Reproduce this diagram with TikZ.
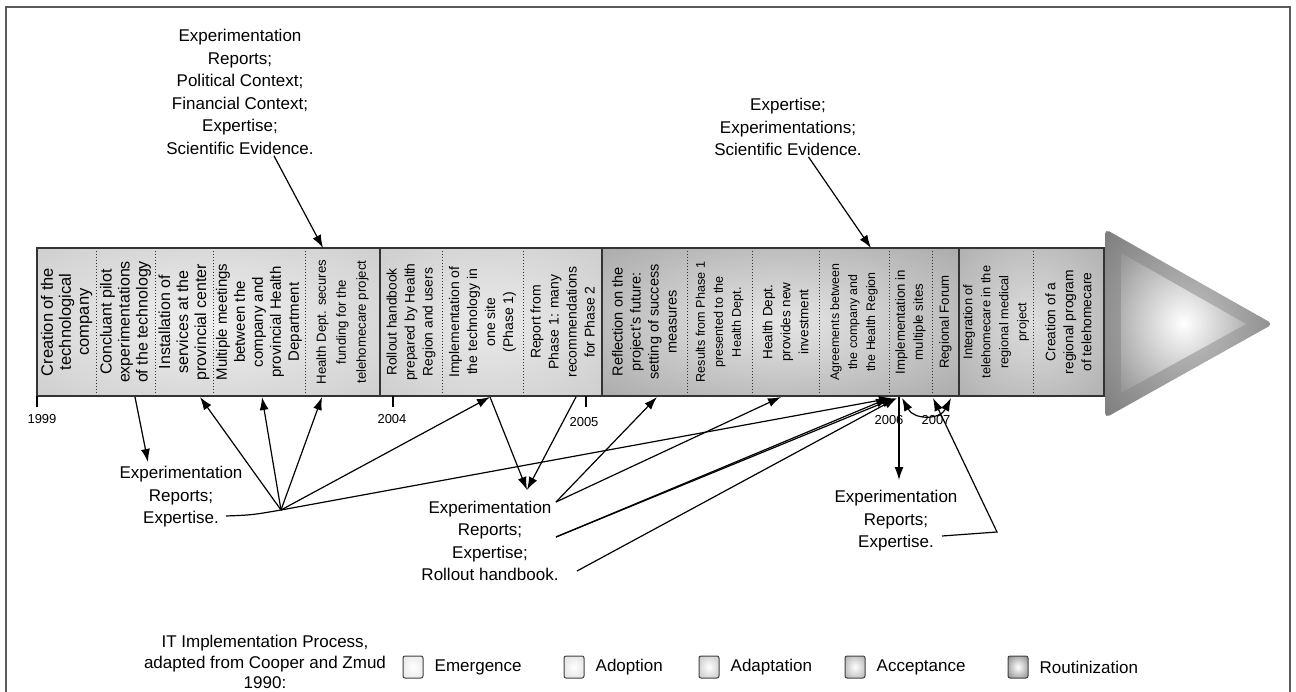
\documentclass[tikz,border=0pt]{standalone}
\usepackage{fontspec}
\setmainfont{Liberation Sans}
\usetikzlibrary{arrows.meta,positioning}
\pgfdeclareradialshading[glin,glout]{glow}{\pgfpoint{0bp}{0bp}}{color(0bp)=(glin); color(50bp)=(glout); color(72bp)=(glout)}
\tikzset{%
  cell/.style={rotate=90,align=center,inner sep=0,font=\fontsize{#1}{18}\selectfont},
  note/.style={align=center,inner sep=1,font=\fontsize{17}{22.5}\selectfont},
  yr/.style={inner sep=0,font=\fontsize{13}{15}\selectfont},
  shine/.style 2 args={/utils/exec={\colorlet{glin}{#1}\colorlet{glout}{#2}},shading=glow},
  bar/.style={draw=black!80,line width=1.8},
  dsep/.style={draw=black!80,line width=1,dotted},
  link/.style={draw=black,line width=1.2},
  flow/.style={link,-{Latex[length=13pt,width=9pt]}},
  both/.style={link,{Latex[length=13pt,width=9pt]}-{Latex[length=13pt,width=9pt]}},
  key/.style={draw=black!75,line width=1,rounded corners=2,minimum width=20,minimum height=22,shade}
}
\begin{document}
\begin{tikzpicture}[x=1pt,y=-1pt]
  \useasboundingbox (0,0) rectangle (1296,692);
  \draw[black!65,line width=1.2] (6,700) -- (6,7) -- (1290,7) -- (1290,700);

  % time line
  \shade[shine={black!6}{black!24}] (37,248) rectangle (380,396);
  \shade[shine={black!8}{black!24}] (380,248) rectangle (602,396);
  \shade[shine={black!10}{black!42}] (602,248) rectangle (959,396);
  \shade[shine={black!13}{black!38}] (959,248) rectangle (1104,396);
  \shade[shine={black!25}{black!62},rounded corners=5] (1105,229) -- (1273,324) -- (1105,418) -- cycle;
  \shade[shine={white}{black!60}] (1121,253) -- (1246,324) -- (1121,393) -- cycle;
  \draw[dsep] (96,248) -- (96,396) (155,248) -- (155,396) (213,248) -- (213,396) (305,248) -- (305,396)
    (442,248) -- (442,396) (523,248) -- (523,396) (687,248) -- (687,396) (752,248) -- (752,396)
    (819,248) -- (819,396) (889,248) -- (889,396) (932,248) -- (932,396) (1033,248) -- (1033,396);
  \draw[bar] (37,248) rectangle (1104,396);
  \draw[bar] (380,248) -- (380,396) (602,248) -- (602,396) (959,248) -- (959,396);

  \node[cell=16.5] (c1) at (66.5,322) {Creation of the\\technological\\company};
  \node[cell=16] (c2) at (125.5,322) {Concluant pilot\\experimentations\\of the technology};
  \node[cell=16] (c3) at (184,322) {Installation of\\services at the\\provincial center};
  \node[cell=15] (c4) at (259,322) {Multiple meetings\\between the\\company and\\provincial Health\\Department};
  \node[cell=13.2,font=\fontsize{13.2}{20}\selectfont] (c5) at (342.5,322) {Health Dept. secures\\funding for the\\telehomecare project};
  \node[cell=13.8] (c6) at (411,322) {Rollout handbook\\prepared by Health\\Region and users};
  \node[cell=14] (c7) at (482.5,322) {Implementation of\\the technology in\\one site\\(Phase 1)};
  \node[cell=14] (c8) at (562.5,322) {Report from\\Phase 1: many\\recommendations\\for Phase 2};
  \node[cell=14.5] (c9) at (644.5,322) {Reflection on the\\project's future:\\setting of success\\measures};
  \node[cell=12.6] (c10) at (719.5,322) {Results from Phase 1\\presented to the\\Health Dept.};
  \node[cell=13.5] (c11) at (785.5,322) {Health Dept.\\provides new\\investment};
  \node[cell=12.4] (c12) at (854,322) {Agreements between\\the company and\\the Health Region};
  \node[cell=13.2] (c13) at (910.5,322) {Implementation in\\multiple sites};
  \node[cell=13.2] (c14) at (945.5,322) {Regional Forum};
  \node[cell=12.8] (c15) at (996,322) {Integration of\\telehomecare in the\\regional medical\\project};
  \node[cell=13.8] (c16) at (1068.5,322) {Creation of a\\regional program\\of telehomecare};

  % years
  \draw[link] (37,396) -- (37,407) (393,396) -- (393,407) (586,396) -- (586,407);
  \node[yr] (y1999) at (42,419) {1999};
  \node[yr] (y2004) at (392,419) {2004};
  \node[yr] (y2005) at (584,422) {2005};
  \node[yr] (y2006) at (889,420) {2006};
  \node[yr] (y2007) at (936,420) {2007};

  % sources of knowledge
  \node[note] (topA) at (240,92) {Experimentation\\Reports;\\Political Context;\\Financial Context;\\Expertise;\\Scientific Evidence.};
  \node[note] (topB) at (788,127) {Expertise;\\Experimentations;\\Scientific Evidence.};
  \node[note] (botA) at (181,497) {Experimentation\\Reports;\\Expertise.};
  \node[note] (botB) at (490,541) {Experimentation\\Reports;\\Expertise;\\Rollout handbook.};
  \node[note] (botC) at (896,521) {Experimentation\\Reports;\\Expertise.};

  \coordinate (t5) at (323,248);
  \coordinate (t12) at (871,248);
  \coordinate (b2) at (135,397);
  \coordinate (sA) at (148,462);
  \coordinate (b3) at (200,397);
  \coordinate (b4) at (262,397);
  \coordinate (b5) at (322,397);
  \coordinate (b7) at (490,397);
  \coordinate (b8) at (576,397);
  \coordinate (sB) at (527,490);
  \coordinate (b9) at (657,397);
  \coordinate (b11) at (781,397);
  \coordinate (b13a) at (889,398);
  \coordinate (b13b) at (892,398);
  \coordinate (b13c) at (895,398);
  \coordinate (b13d) at (897,398);
  \coordinate (d13) at (899,397);
  \coordinate (sC) at (899,480);
  \coordinate (m13) at (902,398);
  \coordinate (m14) at (951,398);
  \coordinate (b14) at (933,398);
  \coordinate (eA) at (226,516);
  \coordinate (hA) at (281,510);
  \coordinate (hB1) at (556,502);
  \coordinate (hB2) at (556,537);
  \coordinate (hB3) at (577,571);
  \coordinate (eC) at (942,536);
  \coordinate (hC) at (997,532);

  \draw[flow] (topA) -- (t5);
  \draw[flow] (topB) -- (t12);
  \draw[flow] (b2) -- (sA);
  \draw[link] (eA) .. controls (252,515) .. (hA);
  \draw[flow] (hA) -- (b3);
  \draw[flow] (hA) -- (b4);
  \draw[flow] (hA) -- (b5);
  \draw[flow] (hA) -- (b7);
  \draw[flow] (hA) -- (b13b);
  \draw[flow] (b7) -- (sB);
  \draw[flow] (b8) -- (sB);
  \draw[flow] (hB1) -- (b9);
  \draw[flow] (hB1) -- (b11);
  \draw[flow] (hB2) -- (b13a);
  \draw[flow] (hB2) -- (b13c);
  \draw[flow] (hB3) -- (b13d);
  \draw[flow] (d13) -- (sC);
  \draw[both] (m13) .. controls (914,420) and (940,420) .. (m14);
  \draw[flow] (eC) -- (hC) -- (b14);

  % legend
  \node[note,font=\fontsize{17}{20.5}\selectfont] (keyT) at (265,662) {IT Implementation Process,\\adapted from Cooper and Zmud\\1990:};
  \node[key,shine={white}{black!14}] (k1) at (413,667) {};
  \node[note,right=10pt of k1] (l1) {Emergence};
  \node[key,shine={white}{black!18}] (k2) at (574,667) {};
  \node[note,right=10pt of k2] (l2) {Adoption};
  \node[key,shine={white}{black!32}] (k3) at (709,667) {};
  \node[note,right=10pt of k3] (l3) {Adaptation};
  \node[key,shine={white}{black!45}] (k4) at (855,667) {};
  \node[note,right=10pt of k4] (l4) {Acceptance};
  \node[key,shine={white}{black!65}] (k5) at (1018,667) {};
  \node[note,right=10pt of k5] (l5) {Routinization};
\end{tikzpicture}
\end{document}
